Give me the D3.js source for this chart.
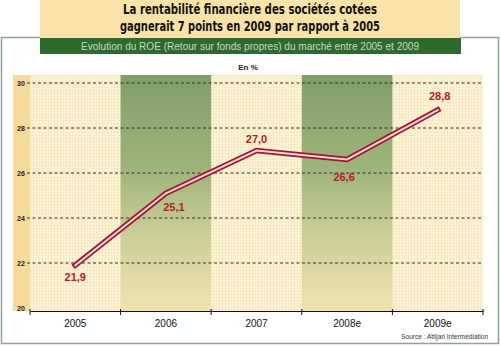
<!DOCTYPE html>
<html><head><meta charset="utf-8">
<script src="https://cdn.jsdelivr.net/npm/d3@7"></script>
<style>body{margin:0;background:#fff}svg{display:block}</style>
</head><body>
<script>
const categories = ["2005","2006","2007","2008e","2009e"];
const roe = [21.9, 25.1, 27.0, 26.6, 28.8];
const roeLabels = ["21,9","25,1","27,0","26,6","28,8"];
const yTicks = [20,22,24,26,28,30];
const shaded = ["2006","2008e"];

const W=500,H=346;
const svg=d3.select("body").append("svg").attr("width",W).attr("height",H);
const defs=svg.append("defs");
const pat=defs.append("pattern").attr("id","dots").attr("width",3).attr("height",3).attr("patternUnits","userSpaceOnUse");
pat.append("rect").attr("width",3).attr("height",3).attr("fill","#fdf5da");
pat.append("rect").attr("width",1).attr("height",3).attr("fill","#f7e9c2");
pat.append("rect").attr("width",3).attr("height",1).attr("fill","#f7e9c2");
const g1=defs.append("linearGradient").attr("id","band").attr("x1",0).attr("y1",0).attr("x2",0).attr("y2",1);
g1.append("stop").attr("offset","0%").attr("stop-color","#7f9f68");
g1.append("stop").attr("offset","40%").attr("stop-color","#9fb47c");
g1.append("stop").attr("offset","70%").attr("stop-color","#cfd09a");
g1.append("stop").attr("offset","100%").attr("stop-color","#efe3b0");

// outer box
svg.append("rect").attr("x",1.5).attr("y",37.5).attr("width",497).attr("height",306).attr("fill","#fff").attr("stroke","#8ea392").attr("stroke-width",1.5);
// title band
svg.append("rect").attr("x",40).attr("y",0).attr("width",420).attr("height",38).attr("fill","#f9e3a8");
svg.append("text").attr("x",250).attr("y",14).attr("text-anchor","middle").attr("font-family","DejaVu Sans Condensed, DejaVu Sans").attr("font-weight","bold").attr("font-size",13.5).attr("fill","#111").attr("textLength",254).attr("lengthAdjust","spacingAndGlyphs").text("La rentabilité financière des sociétés cotées");
svg.append("text").attr("x",250).attr("y",31).attr("text-anchor","middle").attr("font-family","DejaVu Sans Condensed, DejaVu Sans").attr("font-weight","bold").attr("font-size",13.5).attr("fill","#111").attr("textLength",260).attr("lengthAdjust","spacingAndGlyphs").text("gagnerait 7 points en 2009 par rapport à 2005");
// subtitle band
svg.append("rect").attr("x",40).attr("y",38).attr("width",421).attr("height",16).attr("fill","#2d6a2e");
svg.append("text").attr("x",250).attr("y",50).attr("text-anchor","middle").attr("font-family","Liberation Sans, Arial").attr("font-size",10).attr("fill","#c9d9bf").attr("textLength",338).attr("lengthAdjust","spacingAndGlyphs").text("Evolution du ROE (Retour sur fonds propres) du marché entre 2005 et 2009");

svg.append("text").attr("x",248).attr("y",70).attr("text-anchor","middle").attr("font-family","Liberation Sans, Arial").attr("font-weight","bold").attr("font-size",8).attr("fill","#222").text("En %");

const plotL=30,plotR=483,plotT=75,plotB=311;
const x=d3.scaleBand().domain(categories).range([plotL,plotR]);
const y=d3.scaleLinear().domain([20,30]).range([308,83]);

// backgrounds
svg.append("rect").attr("x",13).attr("y",plotT).attr("width",plotL-13).attr("height",plotB-plotT).attr("fill","#f6dc9c");
svg.append("rect").attr("x",plotL).attr("y",plotT).attr("width",plotR-plotL).attr("height",plotB-plotT).attr("fill","url(#dots)");
svg.selectAll("rect.band").data(shaded).join("rect").attr("class","band")
  .attr("x",d=>x(d)).attr("y",plotT).attr("width",x.bandwidth()).attr("height",plotB-plotT).attr("fill","url(#band)");

// gridlines
svg.selectAll("line.grid").data(yTicks.filter(t=>t>20)).join("line").attr("class","grid")
  .attr("x1",plotL-3).attr("x2",plotR).attr("y1",d=>y(d)).attr("y2",d=>y(d))
  .attr("stroke","#2a3320").attr("stroke-width",1).attr("stroke-dasharray","3,2.5");
svg.selectAll("text.yt").data(yTicks).join("text").attr("class","yt")
  .attr("x",17).attr("y",d=>y(d)+2.5).attr("font-family","Liberation Sans, Arial").attr("font-weight","bold").attr("font-size",7).attr("fill","#222").text(d=>d);

// x axis
const xAxis=svg.append("g").attr("transform",`translate(0,${plotB})`)
  .call(d3.axisBottom(x).tickSize(0).tickPadding(9));
xAxis.select(".domain").attr("stroke","#111").attr("stroke-width",1.2);
xAxis.selectAll("text").attr("font-family","Liberation Sans, Arial").attr("font-size",10).attr("fill","#111");
const bounds=categories.map(c=>x(c)).concat([x(categories[categories.length-1])+x.bandwidth()]);
svg.selectAll("line.xt").data(bounds).join("line").attr("class","xt")
  .attr("x1",d=>d).attr("x2",d=>d).attr("y1",plotB-2).attr("y2",plotB+4).attr("stroke","#111");

// line
const pts=categories.map((c,i)=>[x(c)+x.bandwidth()/2, y(roe[i])]);
const line=d3.line();
svg.append("path").attr("d",line(pts)).attr("fill","none").attr("stroke","#9e1630").attr("stroke-width",5.5).attr("stroke-linejoin","miter").attr("stroke-linecap","square");
svg.append("path").attr("d",line(pts)).attr("fill","none").attr("stroke","#f7d6d8").attr("stroke-width",2).attr("stroke-linejoin","miter").attr("stroke-linecap","square");

// labels
const off=[[0,16],[8,18],[0,-8],[-3,21],[2,-10]];
svg.selectAll("text.lab").data(categories).join("text").attr("class","lab")
  .attr("x",(d,i)=>pts[i][0]+off[i][0]).attr("y",(d,i)=>pts[i][1]+off[i][1])
  .attr("text-anchor","middle").attr("font-family","Liberation Sans, Arial").attr("font-weight","bold").attr("font-size",11).attr("fill","#b3212e")
  .text((d,i)=>roeLabels[i]);

svg.append("text").attr("x",488).attr("y",339).attr("text-anchor","end").attr("font-family","Liberation Sans, Arial").attr("font-size",6.5).attr("fill","#333").text("Source : Attijari Intermédiation");
</script>
</body></html>
